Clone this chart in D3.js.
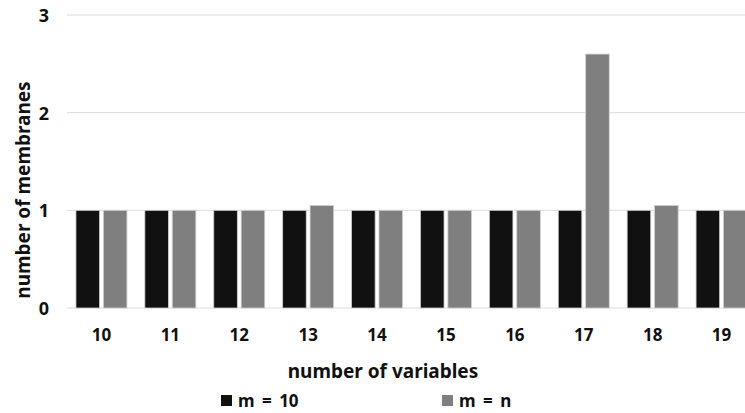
<!DOCTYPE html>
<html>
<head>
<meta charset="utf-8">
<script src="https://cdn.jsdelivr.net/npm/d3@7"></script>
<style>
  html, body { margin: 0; padding: 0; background: #fff; }
  svg { display: block; }
  text { font-family: "Noto Sans", "Open Sans", sans-serif; font-weight: bold; fill: #111; }
</style>
</head>
<body>
<svg id="chart" width="745" height="413"></svg>
<script>
// Number of membranes per variable count, for two settings of m
const categories = ["10", "11", "12", "13", "14", "15", "16", "17", "18", "19"];
const seriesNames = ["m = 10", "m = n"];
const m10Values = [1, 1, 1, 1, 1, 1, 1, 1, 1, 1];
const mnValues  = [1, 1, 1, 1.05, 1, 1, 1, 2.6, 1.05, 1];
const yTicks = [0, 1, 2, 3];
const colors = ["#111111", "#7f7f7f"];

const svg = d3.select("#chart");
const margin = { left: 67, right: -11, top: 15, bottom: 105 };
const W = 745, H = 413;
const plotRight = W - margin.right;
const plotBottom = H - margin.bottom;

const x = d3.scaleBand().domain(categories).range([margin.left, plotRight]).paddingInner(0.26).paddingOuter(0.13);
const xSub = d3.scaleBand().domain(seriesNames).range([0, x.bandwidth()]).paddingInner(0.14);
const y = d3.scaleLinear().domain([0, 3]).range([plotBottom, margin.top]);

// Horizontal gridlines
svg.append("g")
  .selectAll("line")
  .data(yTicks)
  .join("line")
  .attr("x1", margin.left).attr("x2", W)
  .attr("y1", d => y(d)).attr("y2", d => y(d))
  .attr("stroke", "#dcdcdc").attr("stroke-width", 1);

// Y tick labels
const yAxis = d3.axisLeft(y).tickValues(yTicks).tickSize(0).tickPadding(0).tickFormat(d3.format("d"));
const gy = svg.append("g").attr("transform", `translate(49,0)`).call(yAxis);
gy.select(".domain").remove();
gy.selectAll("text").attr("font-size", 18).attr("dy", "0.36em").style("font-family", null);

// Bars
const rows = categories.map((c, i) => ({ cat: c, vals: [m10Values[i], mnValues[i]] }));
const groups = svg.append("g").selectAll("g")
  .data(rows).join("g")
  .attr("transform", d => `translate(${x(d.cat)},0)`);
groups.selectAll("rect")
  .data(d => d.vals.map((v, j) => ({ v, name: seriesNames[j], j })))
  .join("rect")
  .attr("x", d => xSub(d.name))
  .attr("width", xSub.bandwidth())
  .attr("y", d => y(d.v))
  .attr("height", d => y(0) - y(d.v))
  .attr("fill", d => colors[d.j])
  .attr("stroke", "#d0d0d0").attr("stroke-width", 0.8);

// X tick labels
const xAxis = d3.axisBottom(x).tickSize(0).tickPadding(0);
const gx = svg.append("g").attr("transform", `translate(0,${plotBottom + 33})`).call(xAxis);
gx.select(".domain").remove();
gx.selectAll("text").attr("font-size", 17).attr("dy", "0").style("font-family", null);

// Axis titles
svg.append("text")
  .attr("x", 383).attr("y", 378)
  .attr("text-anchor", "middle").attr("font-size", 19)
  .text("number of variables");
svg.append("text")
  .attr("transform", "translate(30,190) rotate(-90)")
  .attr("text-anchor", "middle").attr("font-size", 19)
  .text("number of membranes");

// Legend
const legendX = [221, 442];
seriesNames.forEach((name, j) => {
  svg.append("rect")
    .attr("x", legendX[j]).attr("y", 395).attr("width", 11).attr("height", 11)
    .attr("fill", colors[j]);
  svg.append("text")
    .attr("x", legendX[j] + 17).attr("y", 407)
    .attr("font-size", 17)
    .attr("word-spacing", 3)
    .text(name);
});
</script>
</body>
</html>
